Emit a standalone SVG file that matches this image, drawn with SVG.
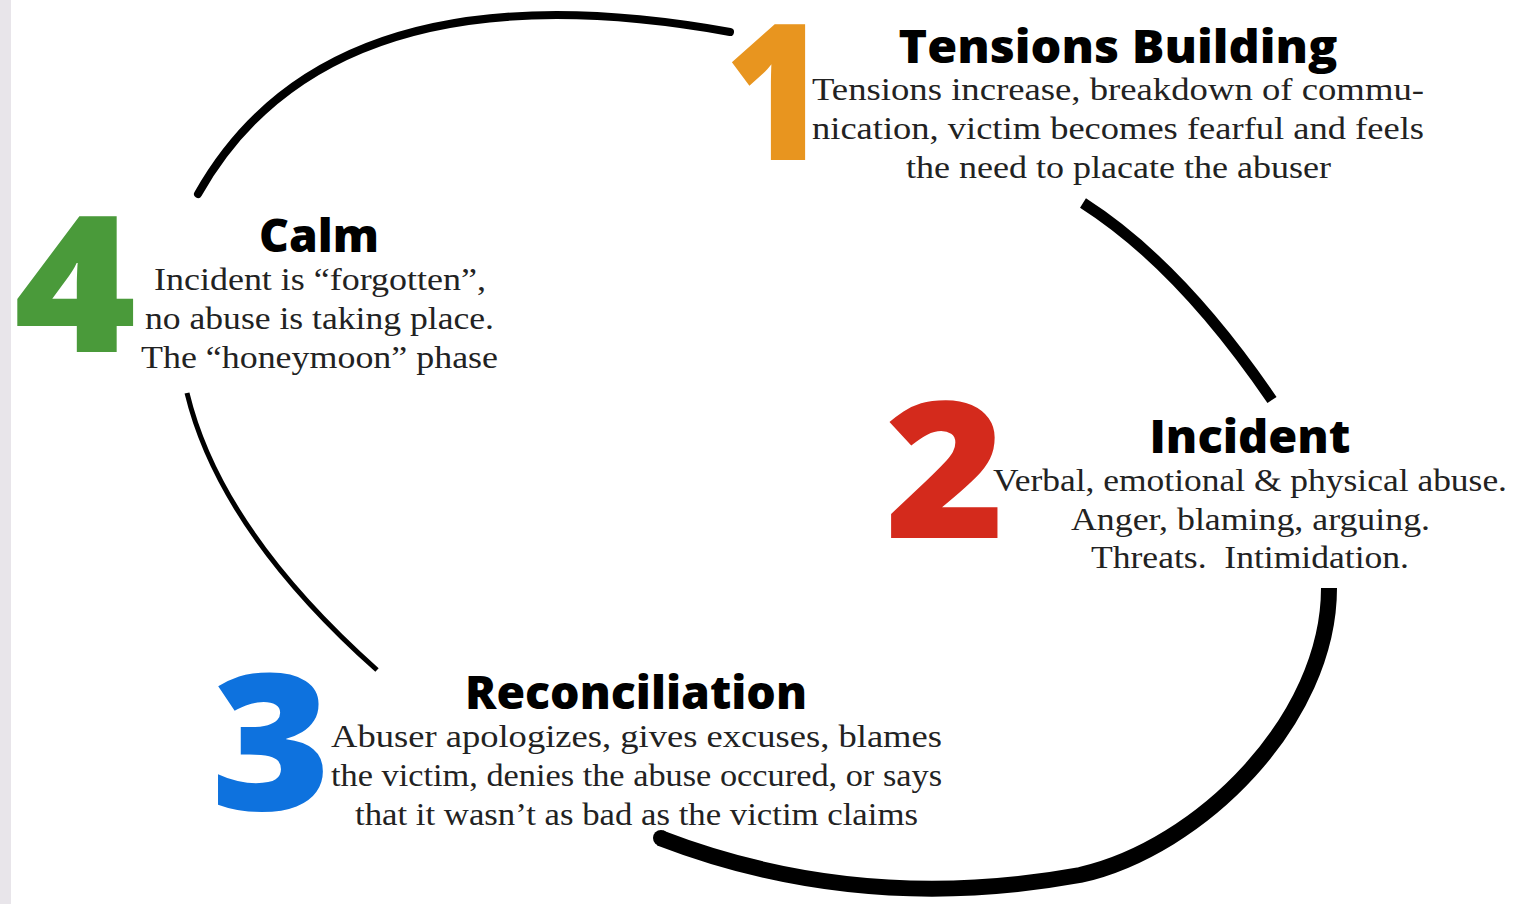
<svg xmlns="http://www.w3.org/2000/svg" width="1517" height="904" viewBox="0 0 1517 904">
<style>
.num{font-family:"Open Sans","Lato","DejaVu Sans",sans-serif;font-weight:800;font-size:190px;text-anchor:middle}
.ttl{font-family:"Open Sans","Lato","DejaVu Sans",sans-serif;font-weight:800;font-size:46px;fill:#000;text-anchor:middle}
.body{font-family:"Liberation Serif","Times New Roman",serif;font-size:31px;fill:#222}
.arc{fill:none;stroke:#000}
</style>
<rect x="0" y="0" width="1517" height="904" fill="#fff"/>
<rect x="0" y="0" width="11" height="904" fill="#e8e5ea"/>
<g id="connectors">
<path class="arc" d="M198,194 Q330,-40 730,32" stroke-width="8" stroke-linecap="round"/>
<path class="arc" d="M1083,203 Q1180,265 1272,400" stroke-width="11" stroke-linecap="butt"/>
<path class="arc" d="M1329,588 C1329,720 1200,848 1080,875 Q860,915 660,838" stroke-width="16" stroke-linecap="butt"/>
<circle cx="661" cy="838" r="8" fill="#000"/>
<path class="arc" d="M187,393 Q220,530 377,670" stroke-width="5" stroke-linecap="butt"/>
</g>
<g id="stage1">
<text class="num" x="0" y="0" fill="#e8951f" transform="translate(776,160) scale(0.92,1)">1</text>
<text class="ttl" x="1118" y="63" textLength="439" lengthAdjust="spacingAndGlyphs">Tensions Building</text>
<text class="body" x="812" y="100" textLength="612" lengthAdjust="spacingAndGlyphs">Tensions increase, breakdown of commu-</text>
<text class="body" x="812" y="139" textLength="612" lengthAdjust="spacingAndGlyphs">nication, victim becomes fearful and feels</text>
<text class="body" x="906" y="178" textLength="425" lengthAdjust="spacingAndGlyphs">the need to placate the abuser</text>
</g>
<g id="stage2">
<text class="num" x="0" y="0" fill="#d42a1c" transform="translate(945,538) scale(1.08,1)">2</text>
<text class="ttl" x="1250" y="453" textLength="201" lengthAdjust="spacingAndGlyphs">Incident</text>
<text class="body" x="993" y="491" textLength="514" lengthAdjust="spacingAndGlyphs">Verbal, emotional &amp; physical abuse.</text>
<text class="body" x="1071" y="530" textLength="359" lengthAdjust="spacingAndGlyphs">Anger, blaming, arguing.</text>
<text class="body" x="1091" y="568" textLength="318" lengthAdjust="spacingAndGlyphs" xml:space="preserve">Threats.  Intimidation.</text>
</g>
<g id="stage3">
<text class="num" x="0" y="0" fill="#0e72de" transform="translate(271,810) scale(1.08,1)">3</text>
<text class="ttl" x="636" y="709" textLength="342" lengthAdjust="spacingAndGlyphs">Reconciliation</text>
<text class="body" x="331" y="747" textLength="611" lengthAdjust="spacingAndGlyphs">Abuser apologizes, gives excuses, blames</text>
<text class="body" x="331" y="786" textLength="611" lengthAdjust="spacingAndGlyphs">the victim, denies the abuse occured, or says</text>
<text class="body" x="355" y="825" textLength="563" lengthAdjust="spacingAndGlyphs">that it wasn’t as bad as the victim claims</text>
</g>
<g id="stage4">
<text class="num" x="0" y="0" fill="#4a9a3a" transform="translate(75,352) scale(1.1,1)">4</text>
<text class="ttl" x="319" y="252" textLength="120" lengthAdjust="spacingAndGlyphs">Calm</text>
<text class="body" x="154" y="290" textLength="332" lengthAdjust="spacingAndGlyphs">Incident is “forgotten”,</text>
<text class="body" x="145" y="329" textLength="349" lengthAdjust="spacingAndGlyphs">no abuse is taking place.</text>
<text class="body" x="141" y="368" textLength="357" lengthAdjust="spacingAndGlyphs">The “honeymoon” phase</text>
</g>
</svg>
